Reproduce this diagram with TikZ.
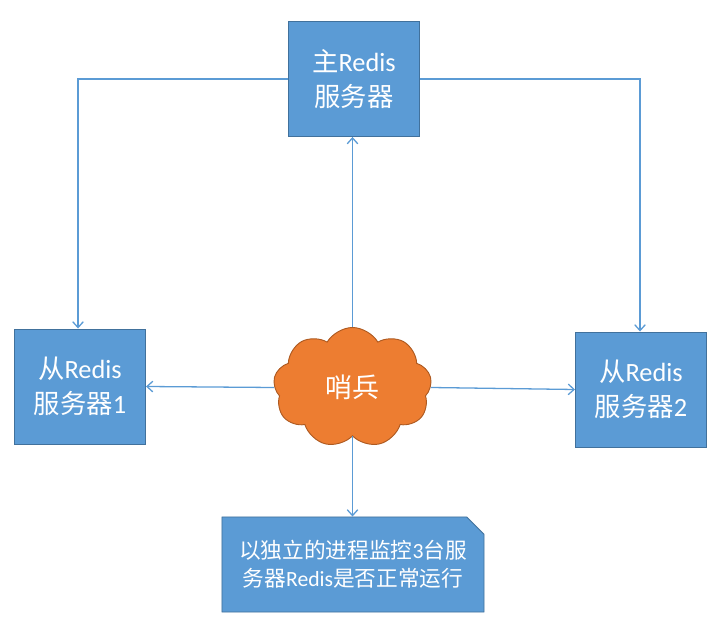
\documentclass[tikz,border=0pt]{standalone}
\usepackage{fontspec}
\setmainfont{Noto Sans CJK SC}
\newfontfamily\latf{Carlito}
\usetikzlibrary{shapes.symbols, shapes.misc, arrows.meta}
\definecolor{boxblue}{HTML}{5B9BD5}
\definecolor{boxedge}{HTML}{41719C}
\definecolor{cloudorange}{HTML}{ED7D31}
\definecolor{cloudedge}{HTML}{AE5A21}
\tikzset{
	server/.style={rectangle, draw=boxedge, fill=boxblue, line width=0.8pt, text=white, align=center,
		minimum width=3.93cm, minimum height=3.45cm, font=\fontsize{22.5}{30}\selectfont},
	sentinel/.style={cloud, cloud puffs=9, cloud puff arc=120, aspect=1.3, draw=cloudedge, fill=cloudorange,
		line width=0.8pt, text=white, minimum width=4.75cm, minimum height=3.6cm, font=\fontsize{23}{28}\selectfont},
	notebox/.style={chamfered rectangle, chamfered rectangle corners=north east, chamfered rectangle xsep=0.26cm,
		chamfered rectangle ysep=0.26cm, draw=boxedge, fill=boxblue, line width=0.8pt, text=white, align=center,
		minimum width=7.86cm, minimum height=2.85cm, font=\fontsize{18.5}{24}\selectfont},
	link/.style={draw=boxblue, line width=1.1pt, -{Straight Barb[length=5pt, width=9pt]}}
}
\begin{document}
\begin{tikzpicture}[x=0.03cm, y=-0.03cm]
	\useasboundingbox (0, 0) rectangle (720, 624);
	% Servers and sentinel:
	\node[server] (master) at (354, 79){主{\latf Redis}\\服务器};
	\node[server] (slaveA) at (80, 386.5){从{\latf Redis}\\服务器{\latf 1}};
	\node[server] (slaveB) at (641, 389.5){从{\latf Redis}\\服务器{\latf 2}};
	\node[sentinel] (sentry) at (352.5, 387.5){哨兵};
	\node[notebox] (note) at (353, 564.5){以独立的进程监控{\latf 3}台服\\务器{\latf Redis}是否正常运行};
	% Links:
	\draw[link] (master.west) -| ([xshift=-0.06cm]slaveA.north);
	\draw[link] (master.east) -| ([xshift=-0.03cm]slaveB.north);
	\draw[link] (sentry.north) -- (sentry.north |- master.south);
	\draw[link] (sentry.west) -- (slaveA.east);
	\draw[link] (sentry.east) -- (slaveB.west);
	\draw[link] (sentry.south) -- (sentry.south |- note.north);
\end{tikzpicture}
\end{document}
